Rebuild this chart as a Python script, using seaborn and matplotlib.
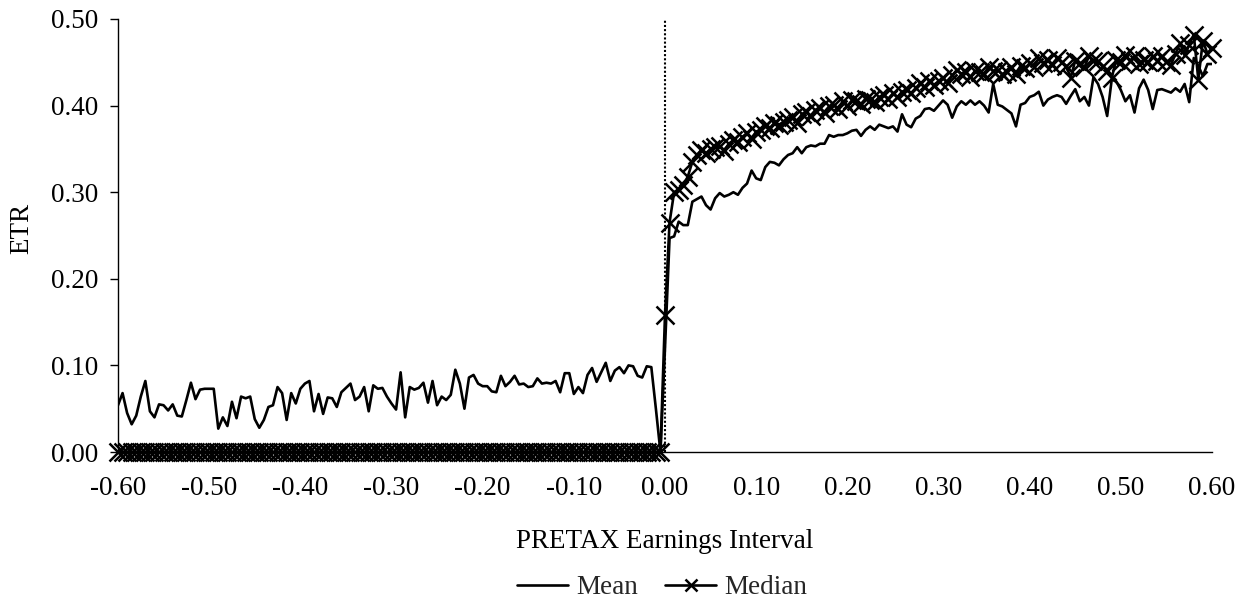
import numpy as np
import pandas as pd
import matplotlib
matplotlib.use("Agg")
import matplotlib.pyplot as plt
from matplotlib.ticker import FormatStrFormatter
import seaborn as sns

# ---- data -------------------------------------------------------------
# PRETAX earnings interval categories: -0.60 ... 0.60 in steps of 0.005
intervals = np.round(np.linspace(-0.60, 0.60, 241), 3)

mean_neg = [
    0.054, 0.068, 0.045, 0.032, 0.042, 0.064, 0.082, 0.047, 0.040, 0.055,
    0.054, 0.048, 0.055, 0.042, 0.041, 0.060, 0.080, 0.061, 0.072, 0.073,
    0.073, 0.073, 0.027, 0.040, 0.030, 0.058, 0.039, 0.064, 0.062, 0.064,
    0.038, 0.028, 0.037, 0.052, 0.054, 0.075, 0.068, 0.037, 0.068, 0.056,
    0.073, 0.079, 0.082, 0.047, 0.067, 0.044, 0.063, 0.062, 0.052, 0.069,
    0.074, 0.079, 0.060, 0.064, 0.075, 0.047, 0.077, 0.073, 0.074, 0.064,
    0.056, 0.049, 0.092, 0.040, 0.075, 0.072, 0.074, 0.080, 0.057, 0.082,
    0.054, 0.064, 0.060, 0.066, 0.095, 0.079, 0.050, 0.086, 0.089, 0.079,
    0.076, 0.076, 0.070, 0.069, 0.088, 0.076, 0.081, 0.088, 0.078, 0.079,
    0.075, 0.076, 0.085, 0.079, 0.080, 0.079, 0.082, 0.069, 0.091, 0.091,
    0.067, 0.075, 0.068, 0.089, 0.097, 0.081, 0.092, 0.103, 0.082, 0.094,
    0.098, 0.091, 0.100, 0.099, 0.088, 0.086, 0.099, 0.098, 0.050, 0.000,
]

mean_pos = [
    0.120, 0.247, 0.249, 0.266, 0.262, 0.262, 0.289, 0.292, 0.295, 0.285,
    0.280, 0.293, 0.299, 0.295, 0.297, 0.300, 0.297, 0.305, 0.310, 0.325,
    0.316, 0.314, 0.329, 0.335, 0.334, 0.331, 0.338, 0.343, 0.345, 0.352,
    0.345, 0.352, 0.354, 0.353, 0.356, 0.356, 0.366, 0.364, 0.366, 0.366,
    0.368, 0.371, 0.372, 0.365, 0.372, 0.376, 0.372, 0.378, 0.376, 0.374,
    0.376, 0.370, 0.390, 0.378, 0.375, 0.385, 0.388, 0.396, 0.397, 0.394,
    0.400, 0.406, 0.401, 0.386, 0.399, 0.405, 0.401, 0.406, 0.401, 0.405,
    0.400, 0.392, 0.425, 0.401, 0.399, 0.395, 0.391, 0.376, 0.401, 0.403,
    0.410, 0.412, 0.416, 0.400, 0.407, 0.410, 0.412, 0.410, 0.402, 0.411,
    0.419, 0.405, 0.410, 0.400, 0.433, 0.425, 0.410, 0.388, 0.430, 0.428,
    0.418, 0.405, 0.412, 0.392, 0.420, 0.430, 0.418, 0.396, 0.418, 0.419,
    0.417, 0.415, 0.420, 0.416, 0.425, 0.404, 0.455, 0.446, 0.434, 0.448,
    0.448,
]

median_neg = [
    0.0, 0.0, 0.0, 0.0, 0.0, 0.0, 0.0, 0.0, 0.0, 0.0,
    0.0, 0.0, 0.0, 0.0, 0.0, 0.0, 0.0, 0.0, 0.0, 0.0,
    0.0, 0.0, 0.0, 0.0, 0.0, 0.0, 0.0, 0.0, 0.0, 0.0,
    0.0, 0.0, 0.0, 0.0, 0.0, 0.0, 0.0, 0.0, 0.0, 0.0,
    0.0, 0.0, 0.0, 0.0, 0.0, 0.0, 0.0, 0.0, 0.0, 0.0,
    0.0, 0.0, 0.0, 0.0, 0.0, 0.0, 0.0, 0.0, 0.0, 0.0,
    0.0, 0.0, 0.0, 0.0, 0.0, 0.0, 0.0, 0.0, 0.0, 0.0,
    0.0, 0.0, 0.0, 0.0, 0.0, 0.0, 0.0, 0.0, 0.0, 0.0,
    0.0, 0.0, 0.0, 0.0, 0.0, 0.0, 0.0, 0.0, 0.0, 0.0,
    0.0, 0.0, 0.0, 0.0, 0.0, 0.0, 0.0, 0.0, 0.0, 0.0,
    0.0, 0.0, 0.0, 0.0, 0.0, 0.0, 0.0, 0.0, 0.0, 0.0,
    0.0, 0.0, 0.0, 0.0, 0.0, 0.0, 0.0, 0.0, 0.0, 0.0,
]

median_pos = [
    0.158, 0.265, 0.300, 0.302, 0.308, 0.318, 0.335, 0.343, 0.349, 0.345,
    0.350, 0.352, 0.353, 0.348, 0.356, 0.360, 0.358, 0.364, 0.368, 0.362,
    0.370, 0.372, 0.376, 0.374, 0.380, 0.378, 0.381, 0.383, 0.387, 0.380,
    0.390, 0.393, 0.388, 0.395, 0.397, 0.392, 0.399, 0.401, 0.396, 0.405,
    0.399, 0.406, 0.405, 0.402, 0.408, 0.406, 0.404, 0.410, 0.412, 0.408,
    0.414, 0.410, 0.416, 0.418, 0.414, 0.420, 0.426, 0.421, 0.428, 0.424,
    0.428, 0.432, 0.426, 0.435, 0.441, 0.437, 0.439, 0.433, 0.440, 0.439,
    0.436, 0.445, 0.440, 0.441, 0.436, 0.439, 0.444, 0.437, 0.446, 0.443,
    0.449, 0.445, 0.455, 0.449, 0.453, 0.447, 0.455, 0.450, 0.446, 0.432,
    0.452, 0.449, 0.444, 0.457, 0.452, 0.451, 0.446, 0.440, 0.432, 0.453,
    0.450, 0.458, 0.452, 0.457, 0.448, 0.453, 0.450, 0.457, 0.452, 0.457,
    0.450, 0.447, 0.460, 0.472, 0.458, 0.470, 0.482, 0.430, 0.475, 0.460,
    0.467,
]

x_ticks = [-0.60, -0.50, -0.40, -0.30, -0.20, -0.10, 0.00, 0.10, 0.20, 0.30, 0.40, 0.50, 0.60]
y_ticks = [0.00, 0.10, 0.20, 0.30, 0.40, 0.50]

df = pd.DataFrame({
    "PRETAX": intervals,
    "Mean": mean_neg + mean_pos,
    "Median": median_neg + median_pos,
})

# ---- style ------------------------------------------------------------
sns.set_style("white")
plt.rcParams["font.family"] = ["Liberation Serif", "DejaVu Serif"]
plt.rcParams["axes.unicode_minus"] = False
FS = 19.5

W, H = 1249, 607
fig = plt.figure(figsize=(W / 100, H / 100), dpi=100)
ax = fig.add_axes([118 / W, 1 - 452 / H, (1212 - 118) / W, (452 - 19) / H])

sns.lineplot(data=df, x="PRETAX", y="Mean", ax=ax, color="black",
             linewidth=1.9, estimator=None, label="Mean")
sns.lineplot(data=df, x="PRETAX", y="Median", ax=ax, color="black",
             linewidth=1.9, estimator=None, marker="x", markersize=12.5,
             markeredgecolor="black", markeredgewidth=1.8,
             label="Median", clip_on=False)

ax.axvline(0.0, color="black", linestyle=(0, (1, 1)), linewidth=1.5, zorder=1)

ax.set_xlim(-0.60, 0.60)
ax.set_ylim(0.0, 0.50)
ax.set_xticks(x_ticks)
ax.set_yticks(y_ticks)
ax.xaxis.set_major_formatter(FormatStrFormatter("%.2f"))
ax.yaxis.set_major_formatter(FormatStrFormatter("%.2f"))

for s in ["top", "right"]:
    ax.spines[s].set_visible(False)
for s in ["left", "bottom"]:
    ax.spines[s].set_color("black")
    ax.spines[s].set_linewidth(1.0)

ax.tick_params(axis="x", length=0, pad=17, labelsize=FS, colors="black")
ax.tick_params(axis="y", left=True, length=6, width=1.0, direction="out",
               pad=8, labelsize=FS, colors="black")

ax.set_xlabel("PRETAX Earnings Interval", fontsize=FS, color="black")
ax.xaxis.label.set_va("center")
ax.xaxis.set_label_coords(0.5, -(541 - 452) / (452 - 19))
ax.set_ylabel("ETR", fontsize=FS, color="black")
ax.yaxis.label.set_va("center")
ax.yaxis.set_label_coords(-(118 - 22) / (1212 - 118), (452 - 228) / (452 - 19))

ax.get_legend().remove()
handles, labels = ax.get_legend_handles_labels()
fig.legend(handles, labels, loc="center", bbox_to_anchor=(662 / W, 1 - 588 / H),
           ncol=2, frameon=False, fontsize=FS, handlelength=1.9,
           handletextpad=0.3, columnspacing=1.0, markerscale=0.65)

fig.savefig("out.png", dpi=100)
